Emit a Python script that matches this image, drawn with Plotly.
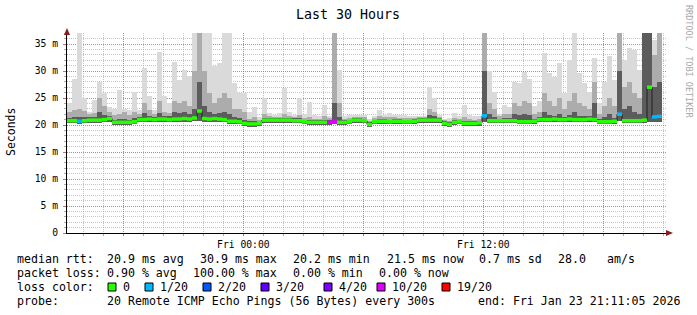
import plotly.graph_objects as go
from datetime import datetime, timedelta

# ---------------- data ----------------
start_time = datetime(2026, 1, 22, 15, 11, 5)
end_time = datetime(2026, 1, 23, 21, 11, 5)
bin_minutes = 15

median_ms = [
    20.8, 20.8, 20.7, 20.8, 20.9, 20.9, 20.9, 21.0, 21.2, 20.5,
    20.5, 20.5, 20.5, 20.6, 21.0, 21.0, 21.1, 21.0, 21.1, 21.1,
    21.0, 21.1, 21.1, 21.2, 21.1, 21.3, 22.6, 21.2, 21.1, 21.2,
    21.1, 21.0, 20.7, 20.7, 20.6, 20.3, 20.2, 20.2, 20.3, 20.9,
    20.9, 20.9, 20.9, 20.9, 20.9, 20.8, 20.8, 20.6, 20.5, 20.5,
    20.5, 20.5, 20.5, 20.7, 20.5, 20.5, 20.6, 20.9, 20.9, 20.8,
    20.1, 20.6, 20.7, 20.7, 20.6, 20.7, 20.7, 20.6, 20.6, 20.7,
    20.9, 20.9, 20.9, 20.9, 20.9, 20.3, 20.1, 20.5, 20.6, 20.3,
    20.3, 20.3, 20.4, 21.7, 20.8, 20.8, 20.8, 20.8, 20.8, 20.8,
    20.6, 20.6, 20.6, 20.7, 21.0, 21.0, 21.0, 21.1, 21.0, 21.0,
    21.1, 21.0, 21.0, 21.0, 21.1, 21.0, 20.6, 20.6, 20.6, 20.7,
    22.0, 20.8, 20.8, 20.8, 20.8, 20.9, 27.0, 21.5, 21.6, None,
]

smoke_min_ms = [
    20.3, 20.3, 20.2, 20.3, 20.4, 20.4, 20.4, 20.5, 20.6, 20.0,
    20.0, 20.0, 20.0, 20.1, 20.5, 20.5, 20.6, 20.5, 20.6, 20.6,
    20.5, 20.6, 20.6, 20.6, 20.6, 20.7, 20.8, 20.6, 20.6, 20.6,
    20.6, 20.5, 20.2, 20.2, 20.1, 19.8, 19.7, 19.7, 19.8, 20.4,
    20.4, 20.4, 20.4, 20.4, 20.4, 20.4, 20.4, 20.1, 20.0, 20.0,
    20.0, 20.0, 20.0, 20.1, 20.0, 20.0, 20.1, 20.4, 20.4, 20.3,
    19.6, 20.1, 20.2, 20.2, 20.1, 20.2, 20.2, 20.1, 20.1, 20.2,
    20.4, 20.4, 20.4, 20.4, 20.4, 19.8, 19.6, 20.0, 20.1, 19.8,
    19.8, 19.8, 19.9, 20.6, 20.3, 20.3, 20.3, 20.3, 20.3, 20.3,
    20.1, 20.1, 20.1, 20.2, 20.5, 20.5, 20.5, 20.5, 20.5, 20.5,
    20.5, 20.5, 20.5, 20.5, 20.5, 20.5, 20.1, 20.1, 20.1, 20.2,
    20.8, 20.3, 20.3, 20.3, 20.3, 20.3, 20.6, 20.5, 20.6, None,
]

smoke_max_ms = [
    24.0, 28.5, 37.0, 25.0, 22.5, 24.6, 28.0, 26.0, 23.4, 23.0,
    26.5, 23.0, 22.8, 26.2, 22.8, 30.5, 25.3, 22.8, 33.6, 25.3,
    24.0, 31.7, 28.3, 30.2, 29.0, 37.0, 37.0, 37.0, 37.0, 31.0,
    31.4, 37.0, 37.0, 27.7, 25.9, 25.9, 22.5, 23.4, 21.5, 25.0,
    22.3, 21.8, 22.2, 26.8, 22.5, 21.8, 25.0, 22.0, 24.3, 21.8,
    21.6, 23.7, 21.6, 37.0, 30.2, 21.6, 21.8, 21.8, 21.8, 21.8,
    21.2, 21.6, 22.8, 21.8, 22.3, 21.8, 21.8, 21.8, 21.6, 21.6,
    21.6, 21.6, 27.1, 25.0, 21.8, 21.2, 21.3, 22.2, 21.6, 23.7,
    21.8, 21.6, 21.6, 37.0, 30.0, 26.2, 22.0, 23.7, 23.4, 28.0,
    27.7, 29.9, 28.5, 23.5, 24.5, 33.3, 29.6, 28.8, 31.4, 26.0,
    32.0, 37.0, 29.6, 27.7, 26.2, 32.4, 24.0, 28.0, 32.7, 28.3,
    37.0, 32.0, 34.2, 33.9, 30.2, 37.0, 37.0, 35.7, 37.0, None,
]

smoke_mid_ms = [
    22.5, 22.8, 23.0, 22.6, 22.0, 22.3, 25.0, 23.5, 22.5, 21.8,
    22.0, 22.4, 21.8, 22.5, 22.0, 24.0, 22.8, 22.0, 24.5, 22.5,
    22.3, 24.5, 24.0, 24.5, 23.5, 30.0, 37.0, 30.0, 26.0, 24.0,
    25.0, 26.0, 25.0, 23.0, 23.0, 22.5, 21.2, 21.5, 20.9, 22.0,
    21.6, 21.5, 21.5, 22.0, 21.6, 21.4, 21.8, 21.3, 21.5, 21.2,
    21.2, 21.6, 21.3, 37.0, 24.0, 21.2, 21.3, 21.5, 21.5, 21.4,
    20.8, 21.3, 21.6, 21.4, 21.5, 21.4, 21.3, 21.3, 21.3, 21.3,
    21.5, 21.5, 23.0, 22.5, 21.5, 20.9, 20.8, 21.3, 21.2, 21.5,
    21.2, 21.0, 21.1, 37.0, 24.0, 23.0, 21.6, 22.0, 22.0, 24.0,
    23.5, 24.5, 24.0, 22.0, 22.5, 26.0, 24.5, 23.5, 25.0, 23.0,
    24.5, 26.0, 24.0, 23.5, 23.0, 28.0, 22.0, 23.5, 25.0, 23.5,
    37.0, 27.0, 28.0, 26.0, 25.0, 37.0, 37.0, 33.0, 37.0, None,
]

smoke_dark_ms = [
    21.3, 21.4, 21.4, 21.4, 21.4, 21.5, 22.5, 21.8, 21.7, 21.0,
    21.2, 21.2, 21.0, 21.3, 21.5, 22.3, 21.7, 21.5, 22.3, 21.7,
    21.6, 22.5, 22.3, 22.5, 22.0, 23.0, 28.0, 23.5, 22.5, 22.0,
    22.3, 22.5, 22.0, 21.5, 21.3, 20.9, 20.7, 20.7, 20.6, 21.3,
    21.3, 21.3, 21.3, 21.3, 21.3, 21.3, 21.3, 21.0, 20.9, 20.9,
    20.9, 21.0, 20.9, 24.0, 21.5, 20.9, 21.0, 21.3, 21.3, 21.2,
    20.5, 21.0, 21.1, 21.1, 21.0, 21.1, 21.1, 21.0, 21.0, 21.1,
    21.3, 21.3, 21.8, 21.6, 21.3, 20.7, 20.5, 20.9, 21.0, 20.8,
    20.7, 20.7, 20.8, 30.0, 22.0, 21.5, 21.2, 21.3, 21.3, 22.0,
    21.8, 22.0, 21.8, 21.2, 21.5, 22.5, 21.8, 21.6, 22.0, 21.5,
    21.8, 22.5, 21.6, 21.6, 21.6, 24.0, 21.1, 21.5, 22.0, 21.3,
    30.0, 23.0, 23.5, 22.5, 22.0, 37.0, 37.0, 27.0, 28.0, None,
]

loss_count = [0] * 120
for idx, lost in [(2, 1), (52, 10), (53, 10), (83, 1), (110, 1), (117, 1), (118, 1)]:
    loss_count[idx] = lost

loss_levels = [0, 1, 2, 3, 4, 10, 19]
loss_labels = ["0", "1/20", "2/20", "3/20", "4/20", "10/20", "19/20"]
loss_colors = ["#26ff00", "#00b8ff", "#0059ff", "#5e00ff", "#7e00ff", "#dd00ff", "#ff0000"]

y_tick_vals = [0, 5, 10, 15, 20, 25, 30, 35]
y_tick_text = ["0", "5 m", "10 m", "15 m", "20 m", "25 m", "30 m", "35 m"]
x_tick_vals = ["2026-01-22 18:00", "2026-01-23 00:00", "2026-01-23 06:00",
               "2026-01-23 12:00", "2026-01-23 18:00"]
x_tick_text = ["", "Fri 00:00", "", "Fri 12:00", ""]

title_text = "Last 30 Hours"
y_title = "Seconds"
side_text = "RRDTOOL / TOBI OETIKER"
stats_rows = [
    [("median rtt:", 17), ("20.9 ms avg", 107), ("30.9 ms max", 200), ("20.2 ms min", 293),
     ("21.5 ms now", 387), ("0.7 ms sd", 479), ("28.0", 558), ("am/s", 607)],
    [("packet loss:", 17), ("0.90 % avg", 107), ("100.00 % max", 193), ("0.00 % min", 293),
     ("0.00 % now", 379)],
    [("probe:", 17), ("20 Remote ICMP Echo Pings (56 Bytes) every 300s", 107),
     ("end: Fri Jan 23 21:11:05 2026", 478)],
]

# ---------------- layout geometry ----------------
W, H = 697, 315
L, T, PW, PH = 67, 33, 600, 200
FONT = "DejaVu Sans Mono"


def pxx(x):
    return (x - L) / PW


def pyy(y):
    return (T + PH - y) / PH


n = len(median_ms)
bin_w = timedelta(minutes=bin_minutes)
centers = [start_time + bin_w * (i + 0.5) for i in range(n)]
lefts = [start_time + bin_w * i for i in range(n)]
rights = [start_time + bin_w * (i + 1) for i in range(n)]
width_ms = bin_minutes * 60 * 1000

fig = go.Figure()


def smoke_layer(tops, color):
    xs, bases, hs = [], [], []
    for c, lo, hi in zip(centers, smoke_min_ms, tops):
        if lo is None or hi is None:
            continue
        xs.append(c)
        bases.append(lo)
        hs.append(hi - lo)
    fig.add_trace(go.Bar(x=xs, y=hs, base=bases, width=width_ms, marker_color=color,
                         marker_line_width=0, showlegend=False, hoverinfo="skip"))


smoke_layer(smoke_max_ms, "#dadada")
smoke_layer(smoke_mid_ms, "#acacac")
smoke_layer(smoke_dark_ms, "#5c5c5c")

# dark step line under the median
sx, sy = [], []
for lft, rgt, m in zip(lefts, rights, median_ms):
    if m is None:
        continue
    sx += [lft, rgt]
    sy += [m, m]
fig.add_trace(go.Scatter(x=sx, y=sy, mode="lines", line=dict(color="#202020", width=1),
                         showlegend=False, hoverinfo="skip"))


def loss_bucket(cnt):
    b = 0
    for k, lv in enumerate(loss_levels):
        if cnt >= lv:
            b = k
    return b


for k, col in enumerate(loss_colors):
    xs, ys = [], []
    for lft, rgt, m, lc in zip(lefts, rights, median_ms, loss_count):
        if m is None or loss_bucket(lc) != k:
            continue
        xs += [lft, rgt, None]
        ys += [m, m, None]
    if xs:
        fig.add_trace(go.Scatter(x=xs, y=ys, mode="lines", line=dict(color=col, width=3.5),
                                 showlegend=False, hoverinfo="skip"))

GRID = "rgba(150,150,150,0.55)"
MGRID = "rgba(225,60,60,0.5)"

fig.update_layout(
    width=W, height=H,
    margin=dict(l=L, r=W - L - PW, t=T, b=H - T - PH),
    paper_bgcolor="white", plot_bgcolor="white",
    barmode="overlay", bargap=0,
    showlegend=False,
    xaxis=dict(
        type="date", range=[start_time, end_time],
        tickmode="array", tickvals=x_tick_vals, ticktext=x_tick_text,
        showgrid=True, gridcolor=MGRID, griddash="1px,1px", gridwidth=1,
        ticks="outside", ticklen=2, tickcolor="#dd6666",
        minor=dict(dtick=3600000, tick0="2026-01-22 16:00", showgrid=True,
                   gridcolor=GRID, griddash="1px,1px", ticks="outside", ticklen=2,
                   tickcolor="#aaaaaa"),
        showline=True, linecolor="black", linewidth=1,
        tickfont=dict(family=FONT, size=9.7, color="black"),
        zeroline=False, fixedrange=True,
    ),
    yaxis=dict(
        range=[0, 37.04],
        tickmode="array", tickvals=y_tick_vals, ticktext=y_tick_text,
        showgrid=True, gridcolor=MGRID, griddash="1px,1px", gridwidth=1,
        ticks="outside", ticklen=3, tickcolor="#dd6666",
        minor=dict(dtick=1, showgrid=True, gridcolor=GRID, griddash="1px,1px",
                   ticks="outside", ticklen=2, tickcolor="#aaaaaa"),
        showline=True, linecolor="black", linewidth=1,
        tickfont=dict(family=FONT, size=9.7, color="black"),
        ticklabelstandoff=3,
        zeroline=False, fixedrange=True,
    ),
)

ann = []


def text_at(txt, x, y, size=11.6, color="black", xanchor="left", angle=0):
    ann.append(dict(text=txt, x=pxx(x), y=pyy(y), xref="paper", yref="paper",
                    xanchor=xanchor, yanchor="middle", showarrow=False, textangle=angle,
                    font=dict(family=FONT, size=size, color=color),
                    borderpad=0, borderwidth=0))


text_at(title_text, 348, 14, size=13.3, xanchor="center")
text_at(y_title, 11, 132, size=11.5, xanchor="center", angle=-90)
text_at(side_text, 689, 61, size=8.5, color="#a8a8a8", xanchor="center", angle=90)

row_y = [259, 273, 301]
for row, yy in zip(stats_rows, row_y):
    for txt, xx in row:
        text_at(txt, xx, yy)

# loss colour legend row
text_at("loss color:", 17, 287)
box_x = [108, 145, 203, 261, 324, 377, 442]
lab_x = [123, 160, 218, 276, 339, 392, 457]
shapes = []
for bx, lx, col, lab in zip(box_x, lab_x, loss_colors, loss_labels):
    shapes.append(dict(type="rect", xref="paper", yref="paper",
                       x0=pxx(bx), x1=pxx(bx + 8), y0=pyy(291), y1=pyy(283),
                       fillcolor=col, line=dict(color="black", width=1)))
    text_at(lab, lx, 287)

# axis arrows
ARROW = "#8b1a1a"
shapes.append(dict(type="path", xref="paper", yref="paper",
                   path=f"M {pxx(64)} {pyy(35)} L {pxx(70)} {pyy(35)} L {pxx(67)} {pyy(28)} Z",
                   fillcolor=ARROW, line=dict(color=ARROW, width=0)))
shapes.append(dict(type="path", xref="paper", yref="paper",
                   path=f"M {pxx(666)} {pyy(230)} L {pxx(666)} {pyy(236)} L {pxx(673)} {pyy(233)} Z",
                   fillcolor=ARROW, line=dict(color=ARROW, width=0)))

fig.update_layout(annotations=ann, shapes=shapes)
fig.write_html("out.html")
